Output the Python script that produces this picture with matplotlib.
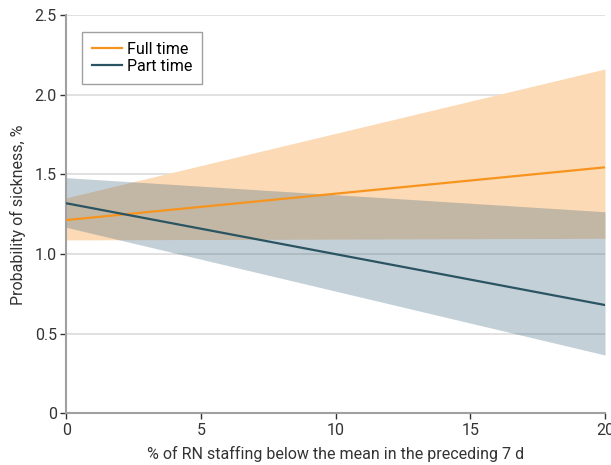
import matplotlib.pyplot as plt

plt.rcParams['font.family'] = ['Roboto', 'DejaVu Sans']

# Datos
x_vals = [0, 20]
full_fit = [1.214, 1.545]
full_lo = [1.089, 1.099]
full_hi = [1.354, 2.163]
part_fit = [1.319, 0.680]
part_lo = [1.168, 0.366]
part_hi = [1.480, 1.266]

x_ticks = [0, 5, 10, 15, 20]
y_ticks = [0, 0.5, 1.0, 1.5, 2.0, 2.5]
y_tick_labels = ['0', '0.5', '1.0', '1.5', '2.0', '2.5']

naranja = '#F7941D'
naranja_claro = '#FCDAB5'
azul = '#2B5462'
azul_banda = '#3E6680'
gris = '#A0A0A0'

fig = plt.figure(figsize=(6.11, 4.65), dpi=100)
ax = fig.add_axes([0.1088, 0.1112, 0.8814, 0.8559])

ax.fill_between(x_vals, full_lo, full_hi, color=naranja_claro, lw=0, zorder=1)
ax.fill_between(x_vals, part_lo, part_hi, color=azul_banda, alpha=0.3, lw=0, zorder=2)
ax.plot(x_vals, full_fit, color=naranja, lw=1.6, label='Full time', zorder=4)
ax.plot(x_vals, part_fit, color=azul, lw=1.6, label='Part time', zorder=4)

ax.set_xlim(0, 20)
ax.set_ylim(0, 2.5)
ax.set_xticks(x_ticks)
ax.set_yticks(y_ticks)
ax.set_yticklabels(y_tick_labels)
ax.grid(axis='y', color='#DCDCDC', lw=1.2, zorder=0)
ax.set_axisbelow(True)

for lado in ['top', 'right']:
    ax.spines[lado].set_visible(False)
for lado in ['left', 'bottom']:
    ax.spines[lado].set_color(gris)
    ax.spines[lado].set_linewidth(1.5)
ax.tick_params(colors='#333333', labelsize=11.5, length=4, width=1, direction='out', pad=3)

ax.set_xlabel('% of RN staffing below the mean in the preceding 7 d', fontsize=11.5, color='#333333', labelpad=6)
ax.set_ylabel('Probability of sickness, %', fontsize=11.5, color='#333333', labelpad=6)

leg = ax.legend(loc='upper left', bbox_to_anchor=(0.029, 0.958), borderaxespad=0, fontsize=11.5,
                frameon=True, fancybox=False, edgecolor='#888888', handlelength=1.9,
                handletextpad=0.3, labelspacing=0.15, borderpad=0.6)
leg.get_frame().set_linewidth(1.0)

fig.savefig('out.png', dpi=100)
